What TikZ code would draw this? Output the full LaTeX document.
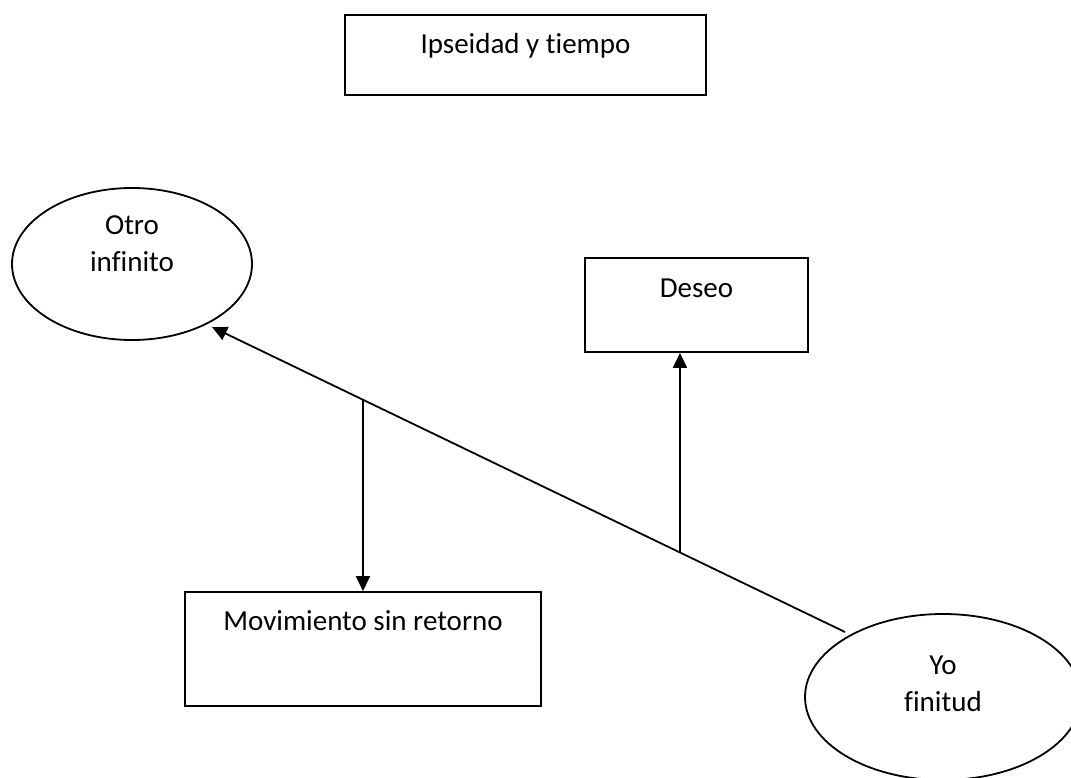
\documentclass[tikz,border=0pt]{standalone}
\usepackage{fontspec}
\setmainfont{Carlito}[Ligatures=NoCommon]
\usetikzlibrary{shapes.geometric,arrows.meta,calc}
\begin{document}
\begin{tikzpicture}[x=1pt,y=-1pt,
  every node/.style={font=\fontsize{29}{37}\selectfont},
  box/.style={draw,line width=1.8pt,rectangle,inner sep=0pt},
  oval/.style={draw,line width=1.8pt,ellipse,inner sep=0pt},
  lbl/.style={align=center,inner sep=0pt},
  arr/.style={line width=1.8pt,-{Triangle[length=15pt,width=14pt]}}]
\useasboundingbox (0,0) rectangle (1071,778);

% title box
\node[box,minimum width=361pt,minimum height=80pt] (title) at (525.5,55) {};
\node[lbl] (titletxt) at (525.5,46) {Ipseidad y tiempo};

% the other (infinite)
\node[oval,minimum width=240pt,minimum height=152pt] (otro) at (132,264) {};
\node[lbl] (otrotxt) at (132,244) {Otro\\infinito};

% desire
\node[box,minimum width=223pt,minimum height=94pt] (deseo) at (696.5,305) {};
\node[lbl] (deseotxt) at (696.5,288) {Deseo};

% movement without return
\node[box,minimum width=356pt,minimum height=114pt] (mov) at (363,649) {};
\node[lbl] (movtxt) at (363,621) {Movimiento sin retorno};

% the self (finitude)
\node[oval,minimum width=276pt,minimum height=166pt] (yo) at (943,697) {};
\node[lbl] (yotxt) at (943,684) {Yo\\finitud};

% main diagonal arrow
\coordinate (yoA) at (845,632);
\coordinate (otA) at (212,327);
\draw[arr] (yoA) -- (otA);

% branches off the diagonal
\coordinate (m1) at ($(yoA)!0.2607!(otA)$);
\coordinate (m2) at ($(yoA)!0.7615!(otA)$);
\draw[arr] (m1) -- (deseo.south -| m1);
\draw[arr] (m2) -- (mov.north -| m2);
\end{tikzpicture}
\end{document}
